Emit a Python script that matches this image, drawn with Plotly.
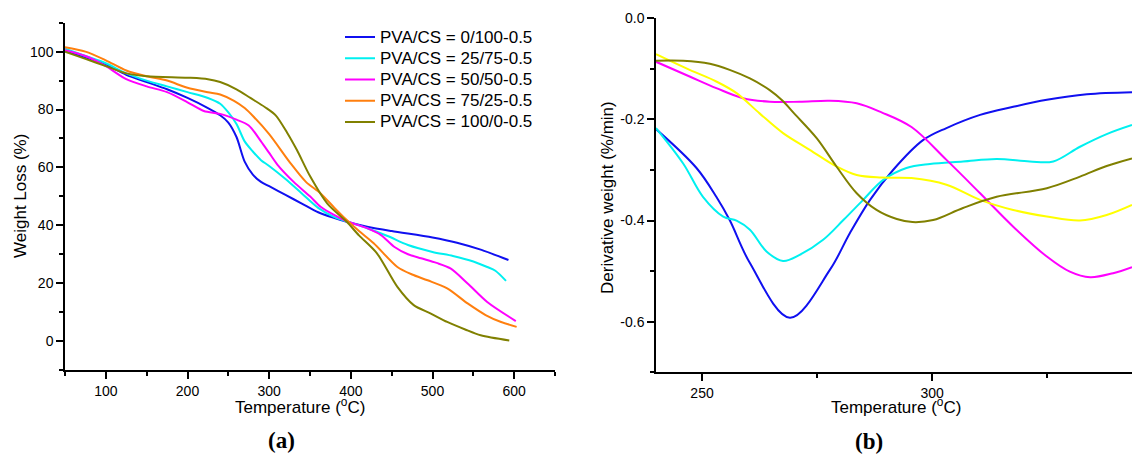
import plotly.graph_objects as go

W, H = 1132, 456

# ---------------- Panel (a): TGA weight loss ----------------
series_names = ["PVA/CS = 0/100-0.5", "PVA/CS = 25/75-0.5", "PVA/CS = 50/50-0.5",
                "PVA/CS = 75/25-0.5", "PVA/CS = 100/0-0.5"]

a_T_0_100 = [50, 75, 100, 125, 150, 175, 200, 225, 240, 250, 260, 270, 280, 290, 300,
             320, 340, 360, 380, 395, 420, 450, 500, 530, 560, 593]
a_W_0_100 = [100.2, 98, 95.5, 92, 89.5, 87, 84, 80.5, 78, 75.5, 70.5, 62, 57.5, 55, 53.5,
             50.5, 47.5, 44.5, 42.5, 41.2, 39.5, 38, 35.8, 34, 31.5, 28]

a_T_25_75 = [50, 75, 100, 125, 150, 175, 200, 225, 240, 250, 260, 270, 280, 290, 300,
             320, 340, 360, 380, 395, 420, 445, 470, 500, 525, 550, 567, 577, 590]
a_W_25_75 = [101, 98.5, 96, 92.5, 90, 88, 86, 84, 82, 79, 75, 69, 65.5, 62.5, 60.5,
             56, 51, 46, 42.8, 41.3, 39, 36.3, 33.2, 30.8, 29.4, 27.5, 25.6, 24.3, 20.8]

a_T_50_50 = [50, 75, 100, 125, 150, 175, 200, 220, 240, 260, 275, 290, 300, 310, 330,
             350, 363, 380, 395, 420, 437, 453, 470, 486, 505, 522, 543, 567, 602]
a_W_50_50 = [100.5, 98.5, 95, 90.5, 88, 86, 82.5, 79.5, 78.5, 76.5, 74.5, 69, 65, 61, 55,
             50, 46.4, 43.5, 41.4, 39, 36.6, 32.6, 30, 28.6, 27, 25.1, 19.9, 13.5, 6.9]

a_T_75_25 = [50, 75, 100, 125, 150, 175, 200, 225, 240, 257, 270, 281, 300, 326, 345,
             363, 380, 395, 410, 428, 457, 475, 494, 518, 543, 565, 584, 603]
a_W_75_25 = [101.5, 100, 97, 93.5, 91.5, 90, 87.5, 86, 85.2, 83, 80.5, 77.5, 71.5, 61.5, 55,
             51, 46, 41.8, 38, 33.8, 25.6, 23, 21, 18.2, 13, 9, 6.6, 4.9]

a_T_100_0 = [50, 75, 100, 125, 150, 200, 225, 240, 260, 277, 295, 308, 322, 334, 350,
             371, 395, 410, 432, 457, 477, 498, 518, 540, 559, 594]
a_W_100_0 = [100, 97.5, 95, 92.5, 91.5, 91, 90.5, 89.5, 87, 84, 80.8, 78, 72, 66, 57,
             47.6, 41.2, 36.5, 30.3, 18.7, 12.4, 9.5, 6.6, 4, 2, 0.2]

a_colors = ["#1010F0", "#00F0F0", "#FF00FF", "#FF7F0E", "#808000"]

# ---------------- Panel (b): DTG ----------------
b_T_blue = [240, 248.8, 253.1, 256, 260.4, 269.1, 277.8, 282.1, 286.5,
            291.5, 298, 303.1, 310.4, 317.6, 324.9, 333.6, 343.4]
b_V_blue = [-0.219, -0.296, -0.353, -0.399, -0.484, -0.592, -0.497,
            -0.425, -0.359, -0.300, -0.241, -0.217, -0.191, -0.175, -0.161, -0.150, -0.146]

b_T_cyan = [240, 245.9, 250.2, 254.6, 257.5, 260.4, 264, 267.6, 271.2, 276.3, 280.7, 285,
            289.3, 294.4, 299.5, 306.7, 314, 321.2, 326.3, 332.1, 337.9, 343.4]
b_V_cyan = [-0.217, -0.287, -0.353, -0.392, -0.400, -0.418, -0.461, -0.480, -0.468, -0.438,
            -0.399, -0.359, -0.320, -0.296, -0.288, -0.283, -0.278, -0.283, -0.283, -0.254,
            -0.229, -0.211]

b_T_magenta = [240, 247.3, 253.1, 258.9, 264.7, 271.2, 277.8, 283.6, 289, 295.5, 303.1,
               310.4, 317.6, 324.9, 329.9, 334.3, 339.3, 343.4]
b_V_magenta = [-0.086, -0.115, -0.138, -0.158, -0.165, -0.165, -0.163, -0.168, -0.186,
               -0.215, -0.280, -0.346, -0.412, -0.471, -0.501, -0.512, -0.504, -0.492]

b_T_yellow = [240, 247.3, 253.1, 257.5, 262.5, 267.6, 273.4, 279.2, 283.6, 289, 295.5,
              303.1, 310.4, 317.6, 324.9, 332.1, 337.9, 343.4]
b_V_yellow = [-0.071, -0.102, -0.125, -0.148, -0.188, -0.227, -0.260, -0.293, -0.310,
              -0.315, -0.316, -0.329, -0.359, -0.379, -0.392, -0.400, -0.389, -0.369]

b_T_olive = [240, 245.9, 251.7, 256, 260.4, 264.7, 267.5, 270, 274.9, 279.2, 283.6, 287.9,
             292.3, 295.7, 300.2, 306.7, 314, 324.9, 332.1, 337.9, 343.4]
b_V_olive = [-0.084, -0.084, -0.090, -0.102, -0.119, -0.142, -0.163, -0.188, -0.237, -0.293,
             -0.346, -0.379, -0.397, -0.403, -0.399, -0.375, -0.353, -0.336, -0.313, -0.292,
             -0.277]

b_colors = ["#1010F0", "#00F0F0", "#FF00FF", "#FFFF00", "#808000"]

a_yticks = [0, 20, 40, 60, 80, 100]
a_xticks = [100, 200, 300, 400, 500, 600]
b_yticks = [0.0, -0.2, -0.4, -0.6]
b_yticktext = ["0.0", "-0.2", "-0.4", "-0.6"]
b_xticks = [250, 300]

FONT = "Liberation Sans, Arial, sans-serif"

fig = go.Figure()

a_data = [(a_T_0_100, a_W_0_100), (a_T_25_75, a_W_25_75), (a_T_50_50, a_W_50_50),
          (a_T_75_25, a_W_75_25), (a_T_100_0, a_W_100_0)]
for (t, w), name, c in zip(a_data, series_names, a_colors):
    fig.add_trace(go.Scatter(x=t, y=w, mode="lines",
                             name='<span style="font-size:17px">' + name + "</span>",
                             line=dict(color=c, width=2, shape="spline", smoothing=0.8),
                             xaxis="x", yaxis="y"))

b_data = [(b_T_blue, b_V_blue), (b_T_cyan, b_V_cyan), (b_T_magenta, b_V_magenta),
          (b_T_yellow, b_V_yellow), (b_T_olive, b_V_olive)]
for (t, v), c in zip(b_data, b_colors):
    fig.add_trace(go.Scatter(x=t, y=v, mode="lines", showlegend=False,
                             line=dict(color=c, width=2, shape="spline", smoothing=1.0),
                             xaxis="x2", yaxis="y2"))


def px_x(p):
    return p / W


def px_y(p):
    return 1 - p / H


axis_common = dict(showline=True, linecolor="black", linewidth=1.5, ticks="outside",
                   ticklen=7, tickwidth=1.5, tickcolor="black", showgrid=False,
                   zeroline=False, automargin=False, mirror=False,
                   tickfont=dict(family=FONT, size=14, color="black"))

fig.update_layout(
    width=W, height=H,
    margin=dict(l=0, r=0, t=0, b=0),
    paper_bgcolor="white", plot_bgcolor="white",
    font=dict(family=FONT, color="black"),
    xaxis=dict(domain=[px_x(65), px_x(555)], range=[50, 650], anchor="y",
               tickmode="array", tickvals=a_xticks,
               minor=dict(dtick=50, tick0=0, ticklen=4, tickwidth=1.5, tickcolor="black",
                          ticks="outside", showgrid=False),
               **axis_common),
    yaxis=dict(domain=[px_y(370), px_y(22.7)], range=[-10, 110], anchor="x",
               tickmode="array", tickvals=a_yticks,
               minor=dict(dtick=10, tick0=0, ticklen=4, tickwidth=1.5, tickcolor="black",
                          ticks="outside", showgrid=False),
               **axis_common),
    xaxis2=dict(domain=[px_x(656), 1.0], range=[240, 343.4], anchor="y2",
                tickmode="array", tickvals=b_xticks,
                minor=dict(dtick=25, tick0=0, ticklen=4, tickwidth=1.5, tickcolor="black",
                           ticks="outside", showgrid=False),
                **axis_common),
    yaxis2=dict(domain=[px_y(372.3), px_y(18.3)], range=[-0.7, 0], anchor="x2",
                tickmode="array", tickvals=b_yticks, ticktext=b_yticktext,
                minor=dict(dtick=0.1, tick0=0, ticklen=4, tickwidth=1.5, tickcolor="black",
                           ticks="outside", showgrid=False),
                **axis_common),
    legend=dict(x=px_x(340), y=px_y(21.5), xanchor="left", yanchor="top",
                bgcolor="rgba(0,0,0,0)", borderwidth=0,
                font=dict(family=FONT, size=14, color="black"),
                tracegroupgap=0, itemwidth=30),
    showlegend=True,
)

ann = [
    dict(text="Weight Loss (%)", x=px_x(20), y=px_y(196), textangle=-90, size=17, fam=FONT),
    dict(text="Temperature (<sup>o</sup>C)", x=px_x(300), y=px_y(406), textangle=0, size=17, fam=FONT),
    dict(text="Derivative weight (%/min)", x=px_x(607), y=px_y(198), textangle=-90, size=17, fam=FONT),
    dict(text="Temperature (<sup>o</sup>C)", x=px_x(896), y=px_y(406), textangle=0, size=17, fam=FONT),
    dict(text="<b>(a)</b>", x=px_x(281), y=px_y(440), textangle=0, size=23,
         fam="Liberation Serif, Times New Roman, serif"),
    dict(text="<b>(b)</b>", x=px_x(869), y=px_y(441), textangle=0, size=23,
         fam="Liberation Serif, Times New Roman, serif"),
]
for a in ann:
    fig.add_annotation(text=a["text"], x=a["x"], y=a["y"], xref="paper", yref="paper",
                       xanchor="center", yanchor="middle", showarrow=False,
                       textangle=a["textangle"],
                       font=dict(family=a["fam"], size=a["size"], color="black"))

fig.write_html("out.html")
